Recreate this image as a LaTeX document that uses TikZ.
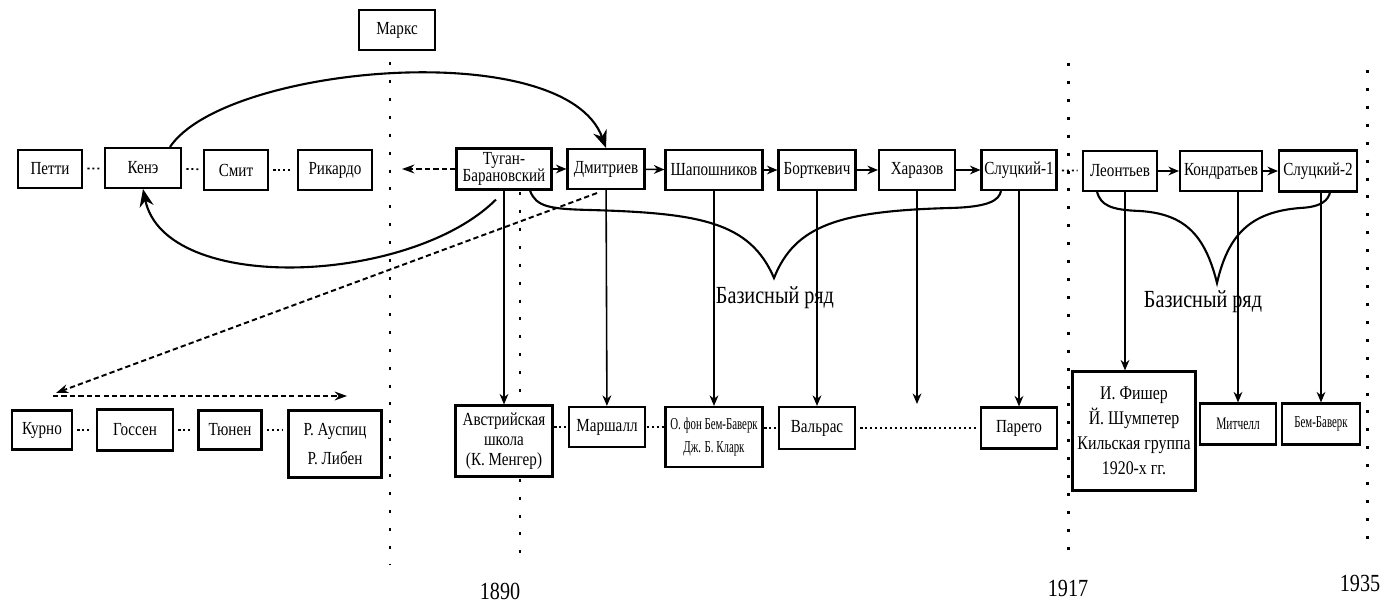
\documentclass[tikz,border=0pt]{standalone}
\usepackage{fontspec}
\setmainfont{Liberation Serif}[FakeStretch=0.82]
\newfontfamily\narrowfont{Liberation Serif}[FakeStretch=0.65]
\usetikzlibrary{arrows.meta,backgrounds,calc}

\begin{document}
\begin{tikzpicture}[x=0.02cm,y=-0.02cm,
		box/.style={draw,line width=1.2pt,fill=white,inner sep=1pt,minimum height=0.8cm,align=center,font=\fontsize{10.5}{11.5}\selectfont},
		arr/.style={line width=0.9pt,-{Stealth[length=6pt,width=5pt]}},
		dots/.style={line width=1pt,dash pattern=on 1.2pt off 1.6pt,shorten <=2.5pt,shorten >=2.5pt},
		era/.style={line width=1.7pt,dash pattern=on 1.7pt off 8.5pt},
		dasharr/.style={line width=1.1pt,dash pattern=on 3pt off 1.8pt,-{Stealth[length=7pt,width=5pt]}},
		bigarr/.style={line width=1.2pt,-{Stealth[length=10pt,width=8pt]}},
		brace/.style={line width=1.2pt},
		year/.style={font=\fontsize{14}{16}\selectfont}]
		\useasboundingbox (0,0) rectangle (1397,611);
		% top row
		\node[box,minimum width=1.52cm] (marks) at (397,30) {Маркс};
		\node[box,minimum width=1.28cm,minimum height=0.76cm] (petti) at (50,169) {Петти};
		\node[box,minimum width=1.52cm] (kene) at (143,168) {Кенэ};
		\node[box,minimum width=1.28cm] (smit) at (236,170) {Смит};
		\node[box,minimum width=1.48cm] (rikardo) at (335,170) {Рикардо};
		\node[box,minimum width=1.9cm,minimum height=0.82cm,font=\fontsize{10.5}{10}\selectfont] (tugan) at (504,169) {Туган-\\Барановский};
		\node[box,minimum width=1.54cm] (dmitr) at (606,169) {Дмитриев};
		\node[box,minimum width=1.94cm] (shap) at (714,170) {Шапошников};
		\node[box,minimum width=1.54cm] (bortk) at (817,170) {Борткевич};
		\node[box,minimum width=1.52cm] (kharaz) at (917,170) {Харазов};
		\node[box,minimum width=1.5cm] (sluts1) at (1019,170) {Слуцкий-1};
		\node[box,minimum width=1.48cm] (leont) at (1120,171) {Леонтьев};
		\node[box,minimum width=1.64cm] (kondr) at (1221,171) {Кондратьев};
		\node[box,minimum width=1.56cm,minimum height=0.82cm] (sluts2) at (1318,171) {Слуцкий-2};
		% bottom row
		\node[box,minimum width=1.2cm,minimum height=0.78cm] (kurno) at (42,430) {Курно};
		\node[box,minimum width=1.52cm,minimum height=0.82cm] (gossen) at (135,430) {Госсен};
		\node[box,minimum width=1.26cm,minimum height=0.78cm] (tyunen) at (230,430) {Тюнен};
		\node[box,minimum width=1.86cm,minimum height=1.34cm,font=\fontsize{10.5}{17}\selectfont] (auspits) at (335,444) {Р. Ауспиц\\Р. Либен};
		\node[box,minimum width=1.94cm,minimum height=1.42cm,font=\fontsize{10.5}{11.5}\selectfont] (austr) at (504,441) {Австрийская\\школа\\(К. Менгер)};
		\node[box,minimum width=1.52cm] (marsh) at (607,427) {Маршалл};
		\node[box,minimum width=1.94cm,minimum height=1.2cm,font=\narrowfont\fontsize{9.5}{13.6}\selectfont] (bawerk) at (714,437) {О. фон Бем-Баверк\\Дж. Б. Кларк};
		\node[box,minimum width=1.52cm,minimum height=0.84cm] (walras) at (817,428) {Вальрас};
		\node[box,minimum width=1.52cm,minimum height=0.82cm] (pareto) at (1019,428) {Парето};
		\node[box,minimum width=2.46cm,minimum height=2.38cm,font=\fontsize{11}{14.2}\selectfont] (fisher) at (1134,431) {И. Фишер\\Й. Шумпетер\\Кильская группа\\1920-х гг.};
		\node[box,minimum width=1.52cm,minimum height=0.82cm,font=\narrowfont\fontsize{10}{11}\selectfont] (mitch) at (1238,424) {Митчелл};
		\node[box,minimum width=1.56cm,minimum height=0.82cm,font=\narrowfont\fontsize{9.5}{11}\selectfont] (bawerk2) at (1321,424) {Бем-Баверк};
		% years and labels
		\node[year] (y1890) at (500,591) {1890};
		\node[year] (y1917) at (1068,588) {1917};
		\node[year] (y1935) at (1360,583) {1935};
		\node[year] (basis1) at (775,298) {Базисный ряд};
		\node[year] (basis2) at (1203,302) {Базисный ряд};
		\coordinate (tugl) at (402,169);
		\coordinate (kharend) at (917,404);
		\coordinate (cl) at (53,396);
		\coordinate (cr) at (347,396);
		% time lines
		\begin{scope}[on background layer]
			\draw[era] (390,62) -- (390,565);
			\draw[era] (520,192) -- (520,555);
			\draw[era] (1068,63) -- (1068,555);
			\draw[era] (1367,70) -- (1367,545);
		\end{scope}
		% dotted links
		\draw[dots] (petti) -- (kene);
		\draw[dots] (kene) -- (smit);
		\draw[dots] (smit) -- (rikardo);
		\draw[dots] (sluts1) -- (leont);
		\draw[dots] (kurno) -- (gossen);
		\draw[dots] (gossen) -- (tyunen);
		\draw[dots] (tyunen) -- (auspits.west |- tyunen);
		\draw[dots,shorten <=0.5pt,shorten >=0.5pt] (austr.east |- marsh) -- (marsh);
		\draw[dots,shorten <=0.5pt,shorten >=0.5pt] (marsh) -- (bawerk.west |- marsh);
		\draw[dots,shorten <=0.5pt,shorten >=0.5pt] (bawerk.east |- walras) -- (walras);
		\draw[dots] (walras) -- (pareto);
		% main chain
		\draw[arr] (tugan) -- (dmitr);
		\draw[arr] (dmitr) -- (shap);
		\draw[arr] (shap) -- (bortk);
		\draw[arr] (bortk) -- (kharaz);
		\draw[arr] (kharaz) -- (sluts1);
		\draw[arr] (leont) -- (kondr);
		\draw[arr] (kondr) -- (sluts2);
		% down links
		\draw[arr] (tugan) -- (austr);
		\draw[arr] (dmitr) -- (marsh);
		\draw[arr] (shap) -- (bawerk);
		\draw[arr] (bortk) -- (walras);
		\draw[arr] (kharaz) -- (kharend);
		\draw[arr] (sluts1) -- (pareto);
		\draw[arr] ([xshift=0.1cm]leont.south) -- ([xshift=0.1cm]leont.south |- fisher.north);
		\draw[arr] (mitch.north |- kondr.south) -- (mitch.north);
		\draw[arr] (bawerk2.north |- sluts2.south) -- (bawerk2.north);
		% dashed links
		\draw[dasharr] (tugan.west) -- (tugl);
		\draw[dasharr] ($(dmitr.south)+(-9,3)$) -- ($(cl)+(3,-3)$);
		\draw[dasharr] (cl) -- (cr);
		% curved links
		\draw[bigarr] ($(kene.north)+(27,0)$) .. controls (225,65) and (565,35) .. (dmitr.north);
		\draw[bigarr] ($(tugan.south)+(-8,9)$) .. controls (410,285) and (165,295) .. (kene.south);
		% braces
		\draw[brace] ($(tugan.south)+(26,0)$) .. controls (536,207) and (550,209) .. (590,210) .. controls (700,213) and (750,222) .. (774,278) .. controls (795,225) and (840,211) .. (950,208) .. controls (990,207) and (999,200) .. ($(sluts1.south)+(-18,0)$);
		\draw[brace] ($(leont.south)+(-23,0)$) .. controls (1101,205) and (1110,210) .. (1140,211) .. controls (1185,214) and (1205,235) .. (1217,283) .. controls (1228,235) and (1250,212) .. (1300,208) .. controls (1322,207) and (1328,200) .. ($(sluts2.south)+(12,0)$);
	\end{tikzpicture}
\end{document}
